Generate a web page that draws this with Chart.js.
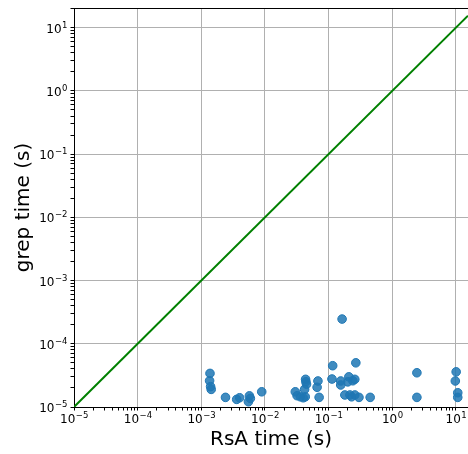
<!DOCTYPE html>
<html>
<head>
<meta charset="utf-8">
<script src="https://cdn.jsdelivr.net/npm/chart.js@4/dist/chart.umd.min.js"></script>
<style>
  html, body { margin: 0; padding: 0; background: #fff; }
  #wrap { width: 468px; height: 454px; }
</style>
</head>
<body>
<div id="wrap"><canvas id="grafico" width="468" height="454"></canvas></div>
<script>
// tempos medidos (segundos)
const rsaTimes = [
  1.37e-3, 1.35e-3, 1.4e-3, 1.43e-3, 2.4e-3, 3.6e-3, 4.0e-3, 5.7e-3, 5.9e-3, 5.5e-3,
  8.9e-3, 0.030, 0.032, 0.0435, 0.044, 0.042, 0.043, 0.036, 0.040, 0.045,
  0.068, 0.066, 0.071, 0.116, 0.113, 0.163, 0.268, 0.155, 0.155, 0.208,
  0.258, 0.20, 0.24, 0.18, 0.216, 0.258, 0.23, 0.30, 0.45, 2.44,
  2.44, 10.1, 9.8, 10.7, 10.7
];
const grepTimes = [
  3.4e-5, 2.6e-5, 2.1e-5, 1.9e-5, 1.42e-5, 1.32e-5, 1.4e-5, 1.5e-5, 1.37e-5, 1.21e-5,
  1.74e-5, 1.74e-5, 1.51e-5, 2.74e-5, 2.51e-5, 1.9e-5, 1.45e-5, 1.45e-5, 1.4e-5, 2.3e-5,
  2.58e-5, 2.05e-5, 1.42e-5, 4.5e-5, 2.77e-5, 2.46e-4, 5.0e-5, 2.58e-5, 2.23e-5, 3.0e-5,
  2.74e-5, 2.5e-5, 2.6e-5, 1.55e-5, 1.55e-5, 1.55e-5, 1.45e-5, 1.42e-5, 1.42e-5, 3.48e-5,
  1.42e-5, 3.6e-5, 2.58e-5, 1.68e-5, 1.42e-5
];
// linha y = x
const linhaX = [1e-5, 15.5];

const xMin = 1e-5, xMax = 15.5;
const yMin = 1e-5, yMax = 20.5;

const fonte = "'DejaVu Sans', sans-serif";

function ehDecada(v) {
  const e = Math.log10(v);
  return Math.abs(e - Math.round(e)) < 1e-9;
}

function ticksLog(min, max) {
  const ticks = [];
  for (let e = Math.floor(Math.log10(min)); e <= Math.ceil(Math.log10(max)); e++) {
    for (let m = 1; m <= 9; m++) {
      const v = m * Math.pow(10, e);
      if (v >= min * 0.9999 && v <= max * 1.0001) ticks.push({ value: v });
    }
  }
  return ticks;
}

// escreve 10^n com expoente menor e elevado
function desenharPotencia(ctx, v, x, y, alinhamento) {
  const exp = String(Math.round(Math.log10(v))).replace('-', '\u2212');
  ctx.font = '12px ' + fonte;
  const wb = ctx.measureText('10').width;
  ctx.font = '8.5px ' + fonte;
  const we = ctx.measureText(exp).width;
  const total = wb + we;
  let x0 = alinhamento === 'right' ? x - total : x - total / 2;
  ctx.textAlign = 'left';
  ctx.textBaseline = 'alphabetic';
  ctx.fillStyle = '#000';
  ctx.font = '12px ' + fonte;
  ctx.fillText('10', x0, y);
  ctx.font = '8.5px ' + fonte;
  ctx.fillText(exp, x0 + wb + 0.5, y - 5);
}

const rotulos = {
  id: 'rotulos',
  afterDraw(chart) {
    const { ctx, chartArea: a } = chart;
    const sx = chart.scales.x, sy = chart.scales.y;
    ctx.save();
    // moldura superior
    ctx.strokeStyle = '#000';
    ctx.lineWidth = 1;
    ctx.beginPath();
    ctx.moveTo(a.left, Math.round(a.top) + 0.5);
    ctx.lineTo(a.right, Math.round(a.top) + 0.5);
    ctx.stroke();
    sx.ticks.forEach(t => {
      if (ehDecada(t.value)) desenharPotencia(ctx, t.value, sx.getPixelForValue(t.value), a.bottom + 16, 'center');
    });
    sy.ticks.forEach(t => {
      if (ehDecada(t.value)) desenharPotencia(ctx, t.value, a.left - 7, sy.getPixelForValue(t.value) + 5, 'right');
    });
    ctx.restore();
  }
};

function eixo(min, max, titulo, tamanho, padTitulo) {
  return {
    type: 'logarithmic',
    min, max,
    afterBuildTicks: s => { s.ticks = ticksLog(min, max); },
    ticks: {
      autoSkip: false,
      maxRotation: 0,
      font: { family: fonte, size: 11 },
      callback: () => ''
    },
    grid: {
      color: c => ehDecada(c.tick.value) ? '#b0b0b0' : 'rgba(0,0,0,0)',
      tickColor: '#000',
      tickLength: 3.5,
      lineWidth: 1
    },
    border: { color: '#000', width: 1 },
    title: {
      display: true,
      text: titulo,
      color: '#000',
      font: { family: fonte, size: 20 },
      padding: padTitulo
    },
    afterFit: s => {
      tamanho(s);
      s.paddingLeft = 0; s.paddingRight = 0;
      s.paddingTop = 0; s.paddingBottom = 0;
    }
  };
}

new Chart(document.getElementById('grafico').getContext('2d'), {
  data: {
    datasets: [
      {
        type: 'line',
        label: 'y = x',
        data: linhaX.map(v => ({ x: v, y: v })),
        borderColor: '#008000',
        borderWidth: 2,
        pointRadius: 0,
        fill: false,
        order: 2
      },
      {
        type: 'scatter',
        label: 'tempos',
        data: rsaTimes.map((v, i) => ({ x: v, y: grepTimes[i] })),
        backgroundColor: 'rgba(31,119,180,0.85)',
        borderColor: '#1f77b4',
        borderWidth: 1,
        pointRadius: 4.3,
        order: 1
      }
    ]
  },
  options: {
    responsive: false,
    animation: false,
    devicePixelRatio: 1,
    layout: { autoPadding: false, padding: { top: 8, right: 0, left: 0, bottom: 0 } },
    plugins: { legend: { display: false }, tooltip: { enabled: false } },
    scales: {
      x: eixo(xMin, xMax, 'RsA time (s)', s => { s.height = 47; }, { top: 0, bottom: 2 }),
      y: eixo(yMin, yMax, 'grep time (s)', s => { s.width = 74; }, { top: 12, bottom: 0 })
    }
  },
  plugins: [rotulos]
});
</script>
</body>
</html>
